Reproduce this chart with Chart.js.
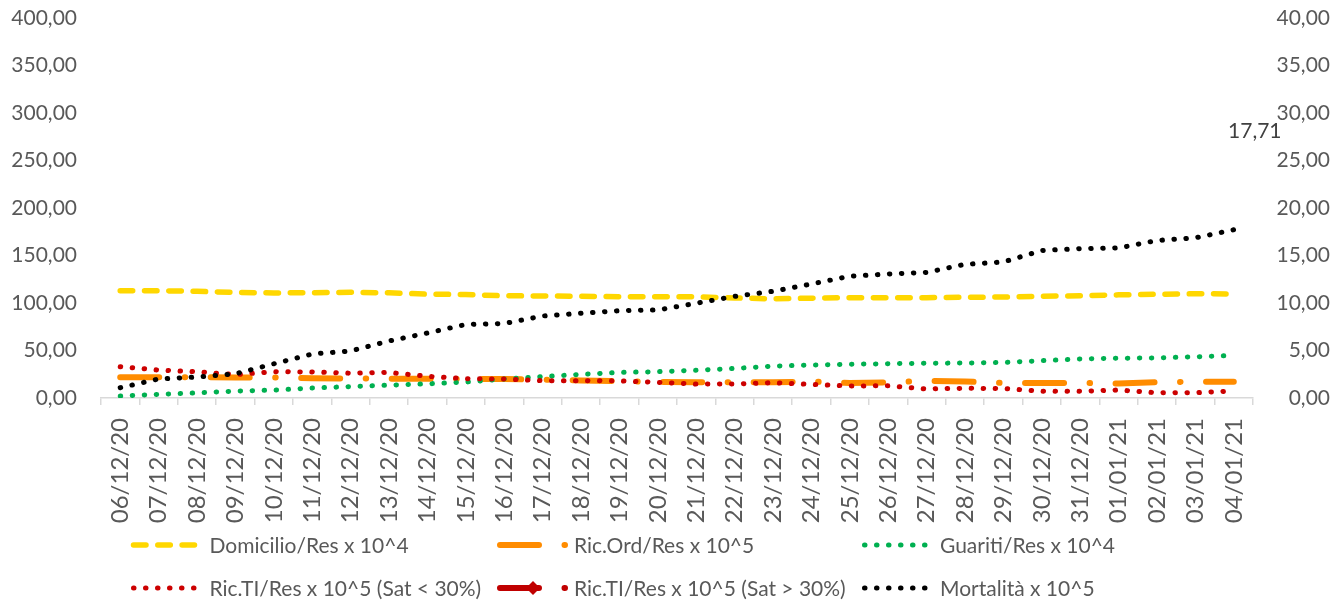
<!DOCTYPE html>
<html><head><meta charset="utf-8">
<script src="https://cdn.jsdelivr.net/npm/chart.js@4/dist/chart.umd.min.js"></script>
<style>html,body{margin:0;padding:0;background:#fff;overflow:hidden}#wrap{position:relative;width:1337px;height:603px}</style>
</head><body><div id="wrap"><canvas id="c" width="1337" height="603"></canvas></div>
<script>
const categories = ['06/12/20','07/12/20','08/12/20','09/12/20','10/12/20','11/12/20','12/12/20','13/12/20','14/12/20','15/12/20','16/12/20','17/12/20','18/12/20','19/12/20','20/12/20','21/12/20','22/12/20','23/12/20','24/12/20','25/12/20','26/12/20','27/12/20','28/12/20','29/12/20','30/12/20','31/12/20','01/01/21','02/01/21','03/01/21','04/01/21'];
const domicilio = [112.9,112.9,112.3,111.1,110.6,110.8,111.3,110.7,109.3,108.9,107.6,107.4,107.1,106.7,106.7,106.5,105.3,104.4,105.1,105.6,105.6,105.6,106.0,106.3,107.1,107.6,108.6,109.2,109.7,109.5];
const ricOrd = [21.8,21.8,21.8,21.6,21.6,20.7,20.5,20.3,20.3,20.0,20.0,19.2,18.4,17.7,16.8,16.5,16.5,16.5,17.4,15.8,16.5,17.9,17.4,15.8,15.8,15.8,15.3,16.6,17.2,17.2];
const guariti = [2.1,3.8,5.4,7.3,8.3,10.5,12.0,13.5,14.9,16.8,20.0,22.5,24.9,26.9,27.7,29.2,31.1,33.6,34.7,35.5,36.1,36.6,36.8,37.4,39.3,41.1,41.9,42.2,43.4,44.7];
const ricTIlow = [32.9,29.4,27.6,24.6,27.7,27.4,26.1,26.9,22.8,20.3,20.0,18.2,18.2,18.0,16.5,14.7,14.8,16.1,14.3,12.6,12.9,9.5,10.2,10.0,7.2,7.1,8.4,5.5,5.6,7.4];
const ricTIhigh = categories.map(() => null);
const mortalita = [1.08,2.00,2.21,2.55,3.60,4.63,4.95,6.00,6.84,7.74,7.84,8.63,8.92,9.19,9.26,9.97,10.70,11.23,12.00,12.82,13.05,13.22,14.07,14.32,15.53,15.72,15.79,16.58,16.86,17.71];
const seriesNames = ['Domicilio/Res x 10^4','Ric.Ord/Res x 10^5','Guariti/Res x 10^4','Ric.TI/Res x 10^5 (Sat < 30%)','Ric.TI/Res x 10^5 (Sat > 30%)','Mortalità x 10^5'];

const FONT = 'Lato';
const GREY = '#595959';
const fmt = v => Number(v).toFixed(2).replace('.', ',');

const legendPlugin = {
  id: 'customLegend',
  afterDraw(chart) {
    const ctx = chart.ctx;
    const colX = [133.5, 500, 864.5], textX = [209.5, 574, 940], rowY = [545, 588];
    const pos = [[0,0],[1,0],[2,0],[0,1],[1,1],[2,1]];
    chart.data.datasets.forEach((d, i) => {
      const [c, r] = pos[i];
      const x0 = colX[c], y = rowY[r];
      const len = c === 1 ? 65 : 61;
      ctx.save();
      ctx.strokeStyle = d.borderColor;
      ctx.lineWidth = d.borderWidth;
      ctx.lineCap = 'round';
      ctx.setLineDash(d.borderDash || []);
      ctx.beginPath(); ctx.moveTo(x0, y); ctx.lineTo(x0 + len, y); ctx.stroke();
      if (d.legendMarker) {
        ctx.setLineDash([]);
        ctx.fillStyle = d.borderColor;
        const mx = x0 + 33, s = 7;
        ctx.beginPath(); ctx.moveTo(mx, y - s); ctx.lineTo(mx + s, y); ctx.lineTo(mx, y + s); ctx.lineTo(mx - s, y); ctx.closePath(); ctx.fill();
      }
      ctx.fillStyle = GREY;
      ctx.font = '21px ' + FONT;
      ctx.textBaseline = 'middle';
      ctx.textAlign = 'left';
      ctx.fillText(seriesNames[i], textX[c], y + 1);
      ctx.restore();
    });
  },
  afterDatasetsDraw(chart) {
    const meta = chart.getDatasetMeta(5);
    const last = meta.data[meta.data.length - 1];
    if (!last) return;
    const ctx = chart.ctx;
    ctx.save();
    ctx.fillStyle = '#404040';
    ctx.font = '21px ' + FONT;
    ctx.textAlign = 'center';
    ctx.textBaseline = 'middle';
    ctx.fillText(fmt(mortalita[mortalita.length - 1]), last.x + 21, last.y - 99);
    ctx.restore();
  }
};

const DOT = [0.5, 11.5];
const datasets = [
  { label: seriesNames[0], data: domicilio, yAxisID: 'y', borderColor: '#FFD700', borderWidth: 5.5, borderDash: [12.5, 11.8], order: 5 },
  { label: seriesNames[1], data: ricOrd, yAxisID: 'y', borderColor: '#FF8C00', borderWidth: 6, borderDash: [39, 25.5, 0.5, 25.5], order: 4 },
  { label: seriesNames[2], data: guariti, yAxisID: 'y', borderColor: '#00B050', borderWidth: 5, borderDash: DOT, order: 3 },
  { label: seriesNames[3], data: ricTIlow, yAxisID: 'y', borderColor: '#CC0000', borderWidth: 5, borderDash: DOT, order: 2 },
  { label: seriesNames[4], data: ricTIhigh, yAxisID: 'y', borderColor: '#C00000', borderWidth: 6, borderDash: [39, 25.5, 0.5, 25.5], legendMarker: true, order: 1 },
  { label: seriesNames[5], data: mortalita, yAxisID: 'y1', borderColor: '#000000', borderWidth: 5, borderDash: DOT, order: 0 }
].map(d => Object.assign({ fill: false, tension: 0, pointRadius: 0, pointHoverRadius: 0, borderCapStyle: 'round', borderJoinStyle: 'round', spanGaps: false }, d));

const noPad = s => { s.paddingTop = 0; s.paddingBottom = 0; s.paddingLeft = 0; s.paddingRight = 0; };

new Chart(document.getElementById('c'), {
  type: 'line',
  data: { labels: categories, datasets },
  options: {
    responsive: false,
    animation: false,
    devicePixelRatio: 1,
    layout: { padding: { top: 18, left: 0, right: 7, bottom: 0 } },
    plugins: { legend: { display: false }, tooltip: { enabled: false } },
    scales: {
      x: {
        type: 'category',
        offset: true,
        grid: { offset: true, drawOnChartArea: false, drawTicks: true, tickLength: 7, color: '#d9d9d9', lineWidth: 1.5 },
        border: { display: true, color: '#d9d9d9', width: 1.5 },
        ticks: { minRotation: 90, maxRotation: 90, autoSkip: false, padding: 13, color: GREY, font: { family: FONT, size: 24 } },
        afterFit: s => { s.height = 205; noPad(s); }
      },
      y: {
        position: 'left', min: 0, max: 400,
        grid: { display: false, drawTicks: false },
        border: { display: false },
        ticks: { stepSize: 50, padding: 24, color: GREY, font: { family: FONT, size: 21 }, callback: v => fmt(v) },
        afterFit: s => { s.width = 101; noPad(s); }
      },
      y1: {
        position: 'right', min: 0, max: 40,
        grid: { display: false, drawTicks: false },
        border: { display: false },
        ticks: { stepSize: 5, padding: 18, crossAlign: 'far', color: GREY, font: { family: FONT, size: 21 }, callback: v => fmt(v) },
        afterFit: s => { s.width = 77; noPad(s); }
      }
    }
  },
  plugins: [legendPlugin]
});
</script>
</body></html>
